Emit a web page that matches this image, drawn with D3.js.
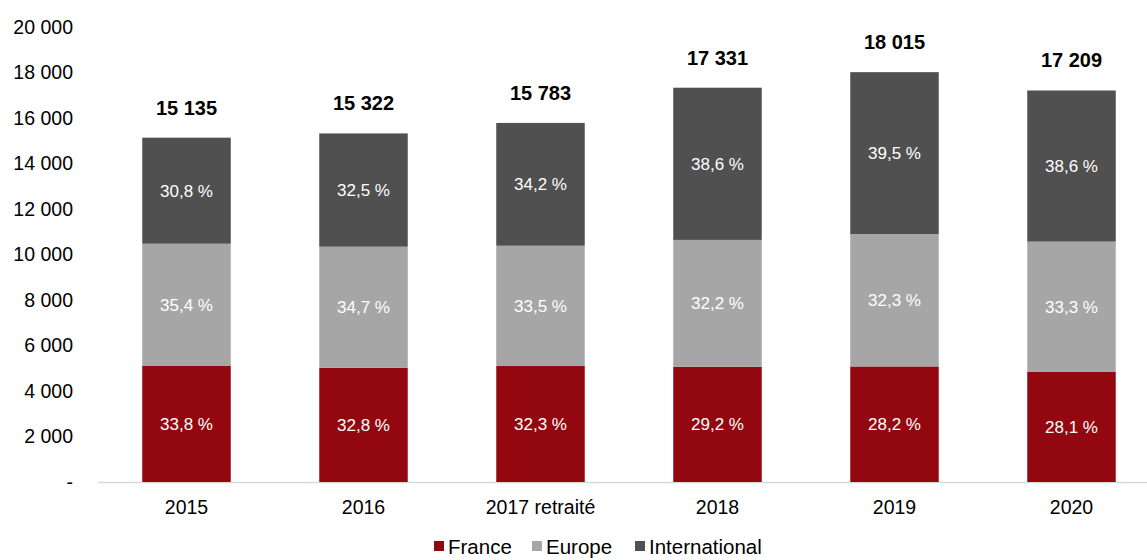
<!DOCTYPE html>
<html>
<head>
<meta charset="utf-8">
<script src="https://cdn.jsdelivr.net/npm/d3@7"></script>
<style>
  body { margin: 0; background: #fff; }
  text { font-family: "Liberation Sans", Arial, sans-serif; }
</style>
</head>
<body>
<script>
// values
var years = ["2015", "2016", "2017 retraité", "2018", "2019", "2020"];
var totals = [15135, 15322, 15783, 17331, 18015, 17209];
var seriesNames = ["France", "Europe", "International"];
var francePct = [33.8, 32.8, 32.3, 29.2, 28.2, 28.1];
var europePct = [35.4, 34.7, 33.5, 32.2, 32.3, 33.3];
var internationalPct = [30.8, 32.5, 34.2, 38.6, 39.5, 38.6];
var yTicks = [0, 2000, 4000, 6000, 8000, 10000, 12000, 14000, 16000, 18000, 20000];
var colors = ["#930810", "#a6a6a6", "#505050"];

var width = 1147, height = 560;

var svg = d3.select("body").append("svg")
    .attr("width", width)
    .attr("height", height);

var x = d3.scaleBand()
    .domain(years)
    .range([98, 1160])
    .paddingInner(0.5)
    .paddingOuter(0.25);

var y = d3.scaleLinear()
    .domain([0, 20000])
    .range([482, 27]);

var fmt = function (v) {
    if (v === 0) return "-";
    return d3.format(",")(v).replace(/,/g, " ");
};

// build stacked rows
var rows = years.map(function (yr, i) {
    return {
        year: yr,
        France: totals[i] * francePct[i] / 100,
        Europe: totals[i] * europePct[i] / 100,
        International: totals[i] * internationalPct[i] / 100,
        pct: [francePct[i], europePct[i], internationalPct[i]],
        total: totals[i]
    };
});

var stack = d3.stack().keys(seriesNames);
var layers = stack(rows);

// y axis labels
svg.append("g").selectAll("text")
    .data(yTicks)
    .enter().append("text")
    .attr("x", 73)
    .attr("y", function (d) { return y(d); })
    .attr("dy", "0.35em")
    .attr("text-anchor", "end")
    .style("font-size", "19.5px")
    .attr("fill", "#000")
    .text(fmt);

// baseline
svg.append("line")
    .attr("x1", 98).attr("x2", width)
    .attr("y1", y(0) + 0.5).attr("y2", y(0) + 0.5)
    .attr("stroke", "#d9d9d9")
    .attr("stroke-width", 1.5);

var layer = svg.selectAll("g.layer")
    .data(layers)
    .enter().append("g")
    .attr("class", "layer")
    .attr("fill", function (d, i) { return colors[i]; });

layer.selectAll("rect")
    .data(function (d) { return d; })
    .enter().append("rect")
    .attr("x", function (d) { return x(d.data.year); })
    .attr("width", x.bandwidth())
    .attr("y", function (d) { return y(d[1]); })
    .attr("height", function (d) { return y(d[0]) - y(d[1]); });

// percent labels
layers.forEach(function (L, si) {
    svg.append("g").selectAll("text")
        .data(L)
        .enter().append("text")
        .attr("x", function (d) { return x(d.data.year) + x.bandwidth() / 2; })
        .attr("y", function (d) { return (y(d[0]) + y(d[1])) / 2; })
        .attr("dy", "0.35em")
        .attr("text-anchor", "middle")
        .attr("fill", "#fff")
        .style("font-size", "17px")
        .text(function (d) { return String(d.data.pct[si]).replace(".", ",") + " %"; });
});

// totals
svg.append("g").selectAll("text")
    .data(rows)
    .enter().append("text")
    .attr("x", function (d) { return x(d.year) + x.bandwidth() / 2; })
    .attr("y", function (d) { return y(d.total) - 30; })
    .attr("dy", "0.35em")
    .attr("text-anchor", "middle")
    .style("font-size", "20px")
    .style("font-weight", "bold")
    .text(function (d) { return fmt(d.total); });

// x labels
svg.append("g").selectAll("text")
    .data(years)
    .enter().append("text")
    .attr("x", function (d) { return x(d) + x.bandwidth() / 2; })
    .attr("y", 507)
    .attr("dy", "0.35em")
    .attr("text-anchor", "middle")
    .style("font-size", "19.5px")
    .text(function (d) { return d; });

// legend (kept just inside the bottom edge)
var legendX = [434, 532, 635];
var legend = svg.append("g").selectAll("g")
    .data(seriesNames)
    .enter().append("g")
    .attr("transform", function (d, i) { return "translate(" + legendX[i] + ",541)"; });

legend.append("rect")
    .attr("width", 10).attr("height", 10)
    .attr("fill", function (d, i) { return colors[i]; });

legend.append("text")
    .attr("x", 14)
    .attr("y", 6)
    .attr("dy", "0.35em")
    .style("font-size", "20.5px")
    .text(function (d) { return d; });
</script>
</body>
</html>
